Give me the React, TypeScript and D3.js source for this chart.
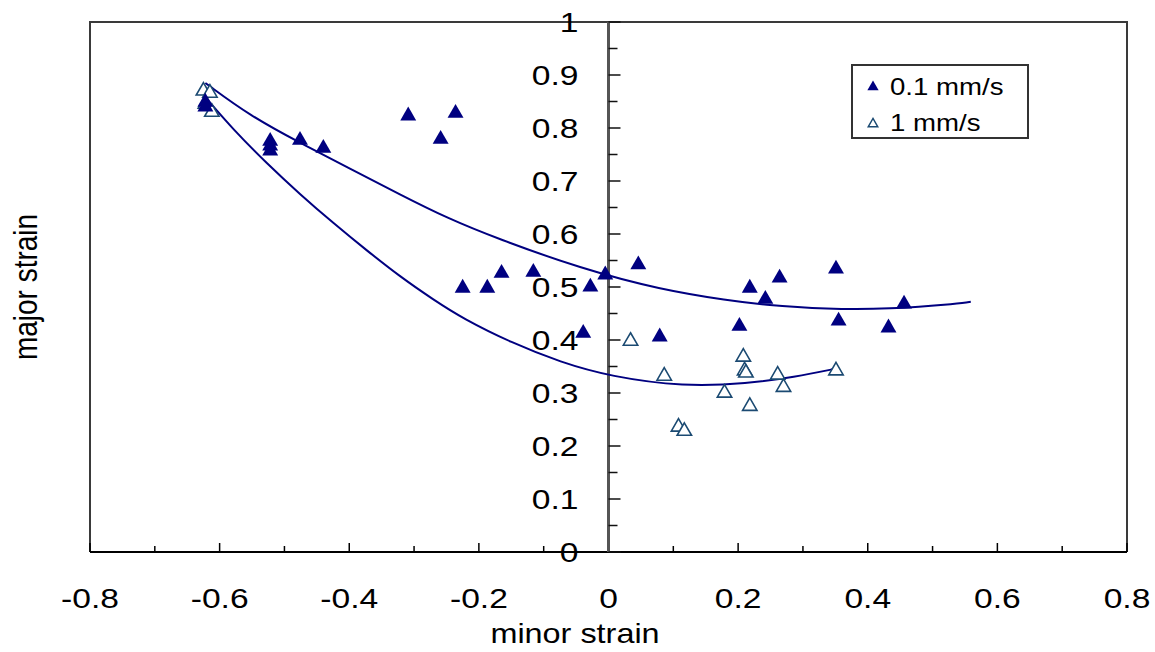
import React from "react";
import * as d3 from "d3";

// ---- data ----
const slowX = [-0.622, -0.622, -0.522, -0.522, -0.522, -0.476, -0.44, -0.309, -0.259, -0.236, -0.225, -0.187, -0.165, -0.116, -0.039, -0.028, -0.005, 0.046, 0.079, 0.202, 0.218, 0.242, 0.264, 0.351, 0.355, 0.432, 0.456];
const slowY = [0.849, 0.840, 0.775, 0.766, 0.757, 0.777, 0.762, 0.823, 0.779, 0.828, 0.498, 0.498, 0.526, 0.528, 0.413, 0.500, 0.523, 0.542, 0.406, 0.426, 0.498, 0.477, 0.517, 0.534, 0.436, 0.423, 0.468];

const fastX = [-0.625, -0.615, -0.622, -0.612, 0.034, 0.086, 0.108, 0.117, 0.179, 0.208, 0.21, 0.212, 0.218, 0.261, 0.27, 0.351];
const fastY = [0.870, 0.866, 0.845, 0.830, 0.398, 0.332, 0.236, 0.228, 0.300, 0.368, 0.342, 0.338, 0.275, 0.334, 0.311, 0.342];

// trend lines
const slowFitX = [-0.622, -0.553, -0.476, -0.398, -0.321, -0.249, -0.171, -0.043, 0.08, 0.188, 0.235, 0.338, 0.431, 0.544, 0.559];
const slowFitY = [0.885, 0.823, 0.772, 0.723, 0.674, 0.630, 0.591, 0.535, 0.495, 0.474, 0.467, 0.458, 0.458, 0.469, 0.472];
const fastFitX = [-0.622, -0.579, -0.527, -0.476, -0.425, -0.372, -0.321, -0.27, -0.224, -0.15, -0.074, 0.003, 0.116, 0.215, 0.286, 0.355];
const fastFitY = [0.858, 0.797, 0.733, 0.675, 0.621, 0.568, 0.519, 0.476, 0.440, 0.395, 0.358, 0.331, 0.312, 0.318, 0.330, 0.347];

const xTicks = [-0.8, -0.6, -0.4, -0.2, 0, 0.2, 0.4, 0.6, 0.8];
const yTicks = [0, 0.1, 0.2, 0.3, 0.4, 0.5, 0.6, 0.7, 0.8, 0.9, 1];
const xTickLabels = ["-0.8", "-0.6", "-0.4", "-0.2", "0", "0.2", "0.4", "0.6", "0.8"];
const yTickLabels = ["0", "0.1", "0.2", "0.3", "0.4", "0.5", "0.6", "0.7", "0.8", "0.9", "1"];
const seriesNames = ["0.1 mm/s", "1 mm/s"];

const W = 1155, H = 652;
const L = 90, R = 1127, T = 22, B = 552;
const NAVY = "#000080";
const OPEN = "#1b4a72";
const FONT = "'Liberation Sans', Arial, sans-serif";
const SX = 1.2;

export default function App() {
  const x = d3.scaleLinear().domain([-0.8, 0.8]).range([L, R]);
  const y = d3.scaleLinear().domain([0, 1]).range([B, T]);
  const x0 = x(0);

  const tri = d3.symbol().type(d3.symbolTriangle).size(110)() as string;
  const triSmall = d3.symbol().type(d3.symbolTriangle).size(55)() as string;
  const triOpen = d3.symbol().type(d3.symbolTriangle).size(90)() as string;
  const triOpenSmall = d3.symbol().type(d3.symbolTriangle).size(40)() as string;

  const line = d3
    .line<[number, number]>()
    .x((d) => x(d[0]))
    .y((d) => y(d[1]))
    .curve(d3.curveBasis);

  const slowFit = line(slowFitX.map((v, i) => [v, slowFitY[i]] as [number, number])) as string;
  const fastFit = line(fastFitX.map((v, i) => [v, fastFitY[i]] as [number, number])) as string;

  const xMinor = d3.range(-8, 9).map((i) => i / 10);
  const yMinor = d3.range(0, 21).map((i) => i / 20);

  const txt = (s: string, px: number, py: number, size: number, anchor: string, key?: string) => (
    <text
      key={key}
      transform={`translate(${px},${py}) scale(${SX},1)`}
      fontSize={size}
      fontFamily={FONT}
      textAnchor={anchor}
      fill="#000"
    >
      {s}
    </text>
  );

  return (
    <svg width={W} height={H} style={{ position: "absolute", left: 0, top: 0, background: "#fff" }}>
      <rect x={0} y={0} width={W} height={H} fill="#fff" />
      {/* frame */}
      <path d={`M${L},${B} V${T} H${R} V${B}`} fill="none" stroke="#3a3a3a" strokeWidth={2} />
      {/* x axis */}
      <line x1={L} x2={R} y1={B} y2={B} stroke="#000" strokeWidth={2} />
      {xMinor.map((v, i) => {
        const major = i % 2 === 0;
        return (
          <line key={"xt" + i} x1={x(v)} x2={x(v)} y1={B} y2={B - (major ? 9 : 6)} stroke="#000" strokeWidth={1.5} />
        );
      })}
      {/* y axis at x=0 */}
      <line x1={x0} x2={x0} y1={B} y2={T} stroke="#555" strokeWidth={3} />
      {yMinor.map((v, i) => {
        const major = i % 2 === 0;
        return (
          <line key={"yt" + i} x1={x0} x2={x0 + (major ? 12 : 9)} y1={y(v)} y2={y(v)} stroke="#111" strokeWidth={1.5} />
        );
      })}
      {/* tick labels */}
      {xTicks.map((v, i) => txt(xTickLabels[i], x(v), 608, 28, "middle", "xl" + i))}
      {yTicks.map((v, i) => txt(yTickLabels[i], x0 - 30, y(v) + 10, 28, "end", "yl" + i))}
      {/* axis titles */}
      {txt("minor strain", 575, 643, 27, "middle")}
      <text
        transform={`translate(37,287) scale(${SX},1) rotate(-90)`}
        fontSize={28}
        fontFamily={FONT}
        textAnchor="middle"
        fill="#000"
      >
        major strain
      </text>
      {/* trend lines */}
      <path d={slowFit} fill="none" stroke={NAVY} strokeWidth={2} />
      <path d={fastFit} fill="none" stroke={NAVY} strokeWidth={2} />
      {/* points */}
      {fastX.map((v, i) => (
        <path key={"f" + i} d={triOpen} transform={`translate(${x(v)},${y(fastY[i])})`} fill="#fff" stroke={OPEN} strokeWidth={1.6} />
      ))}
      {slowX.map((v, i) => (
        <path key={"s" + i} d={tri} transform={`translate(${x(v)},${y(slowY[i])})`} fill={NAVY} />
      ))}
      {/* legend */}
      <rect x={852} y={65} width={176} height={73} fill="#fff" stroke="#333" strokeWidth={2} />
      <path d={triSmall} transform="translate(873,87)" fill={NAVY} />
      {txt(seriesNames[0], 890, 95, 23, "start")}
      <path d={triOpenSmall} transform="translate(873,124)" fill="#fff" stroke={OPEN} strokeWidth={1.4} />
      {txt(seriesNames[1], 890, 131, 23, "start")}
    </svg>
  );
}
